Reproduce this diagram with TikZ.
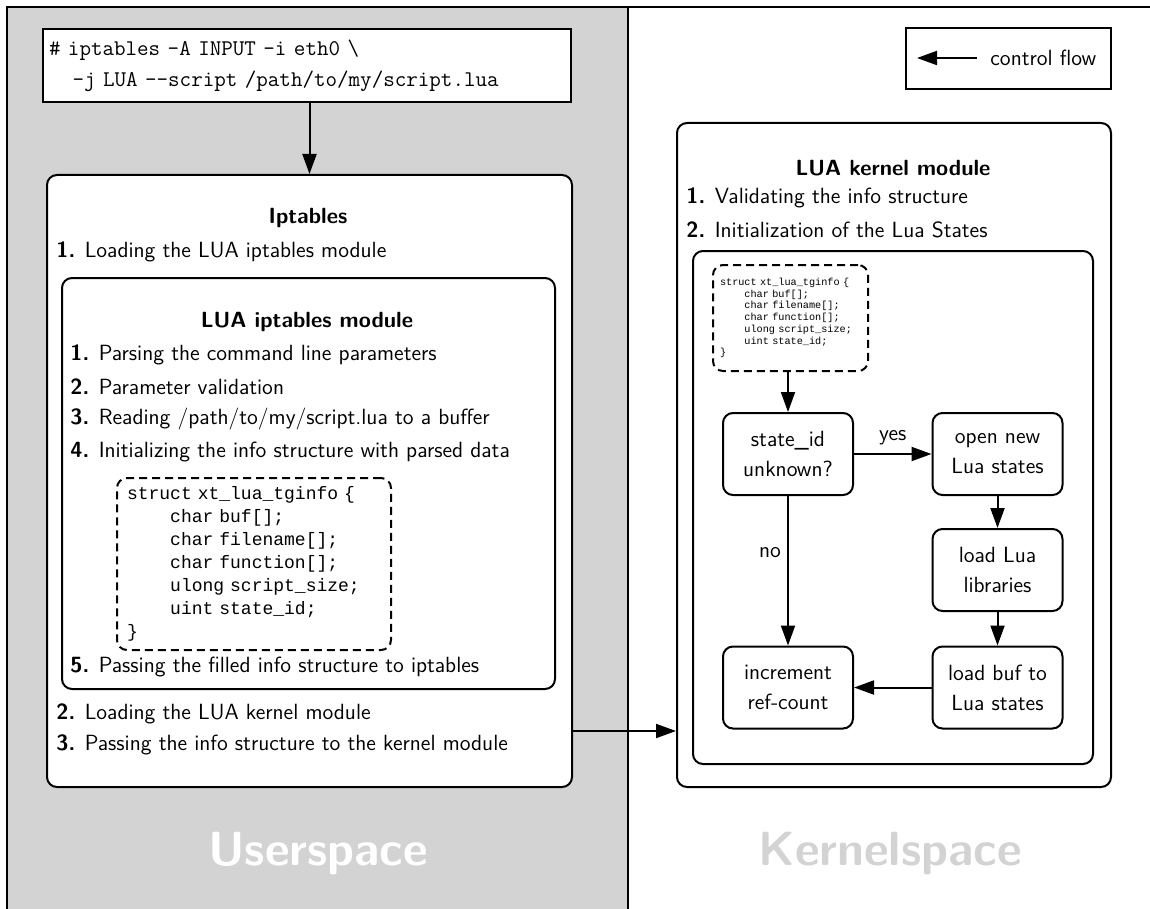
\documentclass[tikz,border=0pt]{standalone}
\usepackage{fontspec}
\usetikzlibrary{arrows.meta}
\newfontfamily\codefont{Liberation Mono}
\definecolor{usergray}{RGB}{211,211,211}
\newcommand{\ind}{\hspace*{2.4em}}
\tikzset{
  cbox/.style={draw, line width=1pt, rounded corners=5pt, fill=white, anchor=north west, inner sep=0pt},
  pbox/.style={draw, line width=1pt, fill=white, anchor=north west},
  fbox/.style={draw, line width=1pt, rounded corners=5pt, fill=white, minimum width=65pt, minimum height=41pt, align=center, inner sep=0pt, font=\fontsize{11}{15}\selectfont\sffamily},
  sbox/.style={draw, dash pattern=on 4pt off 2.5pt, line width=1pt, rounded corners=5pt, fill=white, anchor=north west, align=left},
  txt/.style={anchor=west, inner sep=0pt, font=\fontsize{11}{13}\selectfont\sffamily},
  ttl/.style={inner sep=0pt, font=\fontsize{11}{13}\selectfont\sffamily\bfseries},
  arr/.style={-{Triangle[length=10pt,width=7pt]}, line width=1pt},
  space/.style={font=\fontsize{24}{28}\selectfont\sffamily\bfseries},
}

\begin{document}
\begin{tikzpicture}[x=0.5pt,y=0.5pt,yscale=-1,xscale=1]
\useasboundingbox (0,0) rectangle (1150,909);

%Shape: userspace background
\fill[usergray] (7,7) rectangle (628,920);
\draw[line width=1pt] (7,920) -- (7,7) -- (1160,7);
\draw[line width=1pt] (628,7) -- (628,920);

% Text Node
\node[space, text=white] (usr) at (318,853) {Userspace};
% Text Node
\node[space, text=usergray] (krn) at (890,853) {Kernelspace};

%Shape: Rectangle (command)
\node[pbox, minimum width=264pt, minimum height=36.5pt, text width=258pt, inner xsep=3pt, inner ysep=0pt, align=left, font=\fontsize{11.2}{15.5}\selectfont\ttfamily] (cmd) at (42,28) {\# iptables -A INPUT -i eth0 \textbackslash\\\hspace*{1.05em}-j LUA --script /path/to/my/script.lua};

%Shape: Rectangle (legend)
\node[pbox, minimum width=102.5pt, minimum height=30.5pt, inner sep=0pt] (leg) at (905,27) {};
% Text Node
\node[txt] (lgtxt) at (990,58) {control flow};
\coordinate (lgtip) at (917,58);
\draw[arr] ([xshift=-6.5pt]lgtxt.west) -- (lgtip);

%Shape: Rounded Rectangle (iptables)
\node[cbox, minimum width=262.5pt, minimum height=306pt] (ipt) at (46,174) {};
% Text Node
\node[ttl] (iptt) at (308,218) {Iptables};
% Text Node
\node[txt] (il1) at (56,252) {\textbf{1.} Loading the LUA iptables module};

%Shape: Rounded Rectangle (LUA iptables module)
\node[cbox, minimum width=246.5pt, minimum height=205.5pt] (lip) at (61,277) {};
% Text Node
\node[ttl] (lipt) at (307,322) {LUA iptables module};
% Text Node
\node[txt] (p1) at (70,355) {\textbf{1.} Parsing the command line parameters};
% Text Node
\node[txt] (p2) at (70,387) {\textbf{2.} Parameter validation};
% Text Node
\node[txt] (p3) at (70,419) {\textbf{3.} Reading /path/to/my/script.lua to a buffer};
% Text Node
\node[txt] (p4) at (70,452) {\textbf{4.} Initializing the info structure with parsed data};

%Shape: Dashed Box (struct, userspace)
\node[sbox, text width=127pt, inner xsep=5pt, minimum height=86pt, font=\codefont\fontsize{9}{11.5}\selectfont] (ustr) at (116,477) {struct xt\_lua\_tginfo \{\\
\ind char buf[];\\
\ind char filename[];\\
\ind char function[];\\
\ind ulong script\_size;\\
\ind uint state\_id;\\
\}};

% Text Node
\node[txt] (p5) at (70,667) {\textbf{5.} Passing the filled info structure to iptables};
% Text Node
\node[txt] (il2) at (56,714) {\textbf{2.} Loading the LUA kernel module};
% Text Node
\node[txt] (il3) at (56,745) {\textbf{3.} Passing the info structure to the kernel module};

%Shape: Rounded Rectangle (LUA kernel module)
\node[cbox, minimum width=217pt, minimum height=332pt] (kern) at (676,122) {};
% Text Node
\node[ttl] (kernt) at (893,168) {LUA kernel module};
% Text Node
\node[txt] (k1) at (686,198) {\textbf{1.} Validating the info structure};
% Text Node
\node[txt] (k2) at (686,230) {\textbf{2.} Initialization of the Lua States};

%Shape: Rounded Rectangle (Lua states)
\node[cbox, minimum width=200pt, minimum height=256.5pt] (lst) at (692,250) {};

%Shape: Dashed Box (struct, kernelspace)
\node[sbox, text width=70.5pt, inner xsep=3.5pt, minimum height=53pt, font=\codefont\fontsize{5.1}{5.85}\selectfont] (kstr) at (712,264) {struct xt\_lua\_tginfo \{\\
\ind char buf[];\\
\ind char filename[];\\
\ind char function[];\\
\ind ulong script\_size;\\
\ind uint state\_id;\\
\}};

% flow chart
\node[fbox] (sid) at (788,454) {state\_id\\unknown?};
\node[fbox] (opn) at (997.5,454) {open new\\Lua states};
\node[fbox] (lib) at (997.5,570) {load Lua\\libraries};
\node[fbox] (buf) at (997.5,687.5) {load buf to\\Lua states};
\node[fbox] (inc) at (788,687.5) {increment\\ref-count};

% connectors
\draw[arr] (cmd.south -| ipt.north) -- (ipt.north);
\coordinate (hand) at ([yshift=-7pt]il3.west);
\draw[arr] (ipt.east |- hand) -- (kern.west |- hand);
\draw[arr] (kstr.south -| sid.north) -- (sid.north);
\draw[arr] (sid) -- node[above, font=\fontsize{11}{13}\selectfont\sffamily, inner sep=4pt] {yes} (opn);
\draw[arr] (sid) -- node[left, pos=0.38, font=\fontsize{11}{13}\selectfont\sffamily, inner sep=3pt] {no} (inc);
\draw[arr] (opn) -- (lib);
\draw[arr] (lib) -- (buf);
\draw[arr] (buf) -- (inc);

\end{tikzpicture}
\end{document}
